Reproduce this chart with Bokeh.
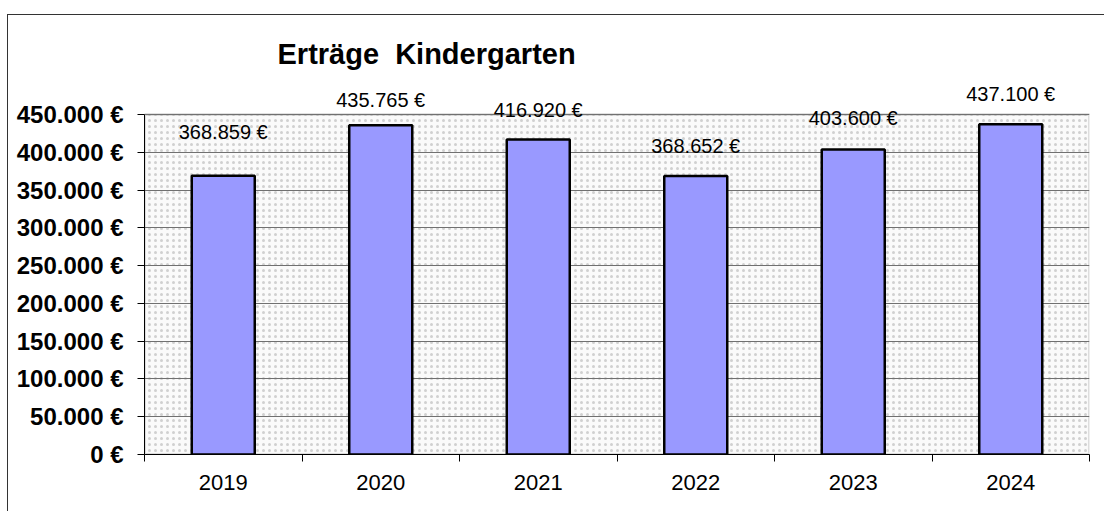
from bokeh.plotting import figure
from bokeh.models import ColumnDataSource, FixedTicker, LabelSet, BoxAnnotation, Range1d
from bokeh.core.properties import value
from bokeh.embed import file_html
from bokeh.resources import INLINE

# ---- data ----
years = ["2019", "2020", "2021", "2022", "2023", "2024"]
revenues = [368859, 435765, 416920, 368652, 403600, 437100]
y_ticks = [0, 50000, 100000, 150000, 200000, 250000, 300000, 350000, 400000, 450000]
y_tick_labels = ["0 €", "50.000 €", "100.000 €", "150.000 €", "200.000 €",
                 "250.000 €", "300.000 €", "350.000 €", "400.000 €", "450.000 €"]
title_text = "Erträge \u00a0Kindergarten"


def de_euro(v):
    return f"{v:,}".replace(",", ".") + " €"


value_labels = [de_euro(v) for v in revenues]

# ---- styles / layout ----
label_offsets = [44, 25, 29, 30, 32, 30]  # px above bar top
FONT = "Liberation Sans"
AXIS_PX = 340      # pixel height of the 0..450k plot area
FRAME_PX = 380     # frame height incl. free room above for value labels

x_pos = [i + 0.5 for i in range(len(years))]
source = ColumnDataSource(dict(x=x_pos, top=revenues, label=value_labels, yoff=label_offsets))

y_top = y_ticks[-1]
p = figure(width=1097, height=497,
           x_range=Range1d(0, len(years)), y_range=Range1d(0, y_top * FRAME_PX / AXIS_PX),
           output_backend="svg", toolbar_location=None,
           min_border_left=136, min_border_right=16, min_border_top=59, min_border_bottom=58)

p.styles = {"margin-top": "14px", "margin-left": "7px",
            "border-top": "1px solid #333333", "border-left": "1px solid #333333"}

p.background_fill_color = "white"
p.border_fill_color = "white"
p.outline_line_color = None

# dotted plot-area background with grey border
bg = BoxAnnotation(left=0, right=len(years), bottom=0, top=y_top,
                   fill_color="#fafafa", fill_alpha=1.0,
                   hatch_pattern="dot", hatch_color="#d0d0d0", hatch_scale=6, hatch_weight=1,
                   line_color="#9a9a9a", line_width=3, level="image")
p.add_layout(bg)

p.vbar(x="x", top="top", bottom=0, width=0.4, source=source,
       fill_color="#9999ff", line_color="black", line_width=2.5)

labels = LabelSet(x="x", y="top", text="label", y_offset="yoff", source=source,
                  text_align="center", text_baseline="middle",
                  text_font=value(FONT), text_font_size="20px", text_color="black")
p.add_layout(labels)

# title
p.title.text = title_text
p.title.text_font = FONT
p.title.text_font_size = "29px"
p.title.text_font_style = "bold"
p.title.text_color = "black"
p.title.align = "left"
p.title.offset = 133
p.title.standoff = 9

# x axis
xa = p.xaxis[0]
xa.ticker = FixedTicker(ticks=x_pos, minor_ticks=list(range(len(years) + 1)))
xa.major_label_overrides = {x: y for x, y in zip(x_pos, years)}
xa.major_tick_out = 0
xa.major_tick_in = 0
xa.minor_tick_out = 7
xa.minor_tick_in = 0
xa.minor_tick_line_color = "black"
xa.axis_line_color = "black"
xa.axis_line_width = 1
xa.major_label_text_font = FONT
xa.major_label_text_font_size = "22px"
xa.major_label_text_color = "black"
xa.major_label_standoff = 13

# y axis
ya = p.yaxis[0]
ya.ticker = FixedTicker(ticks=y_ticks, minor_ticks=[])
ya.bounds = (0, y_top)
ya.major_label_overrides = {t: l for t, l in zip(y_ticks, y_tick_labels)}
ya.major_tick_out = 7
ya.major_tick_in = 0
ya.major_tick_line_color = "black"
ya.axis_line_color = "black"
ya.major_label_text_font = FONT
ya.major_label_text_font_size = "24px"
ya.major_label_text_font_style = "bold"
ya.major_label_text_color = "black"
ya.major_label_standoff = 14

p.xgrid.visible = False
p.ygrid.ticker = FixedTicker(ticks=y_ticks, minor_ticks=[])
p.ygrid.grid_line_color = "#707070"
p.ygrid.grid_line_width = 1

open("out.html", "w").write(file_html(p, INLINE))
